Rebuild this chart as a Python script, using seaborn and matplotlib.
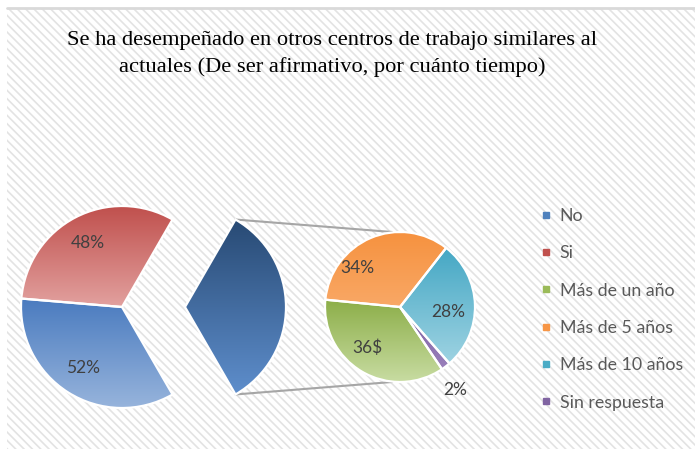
import numpy as np
import matplotlib
matplotlib.use("Agg")
import matplotlib.pyplot as plt
import seaborn as sns
from matplotlib.colors import to_rgb
from matplotlib.patches import Rectangle
from matplotlib.lines import Line2D

# ---------------- data ----------------
title = ("Se ha desempeñado en otros centros de trabajo similares al\n"
         "actuales (De ser afirmativo, por cuánto tiempo)")
main_categories = ["No", "Si"]
main_values = [52, 48]
main_labels = ["52%", "48%"]
other_weight = 50            # broken-out slice of the primary pie
sub_categories = ["Más de un año", "Más de 5 años", "Más de 10 años", "Sin respuesta"]
sub_values = [36, 34, 28, 2]
sub_labels = ["36$", "34%", "28%", "2%"]
legend_order = ["No", "Si", "Más de un año", "Más de 5 años", "Más de 10 años", "Sin respuesta"]

# ---------------- style ----------------
sns.set_theme(style="white")
plt.rcParams["font.family"] = ["Lato", "DejaVu Sans"]
plt.rcParams["hatch.linewidth"] = 1.2

base_colors = {"No": "#4f81bd", "Si": "#c0504d", "Más de un año": "#9bbb59",
               "Más de 5 años": "#f79646", "Más de 10 años": "#4bacc6",
               "Sin respuesta": "#8064a2"}
gradients = {"No": ("#4a7bbf", "#97b4dc"), "Si": ("#c0504d", "#e2a19f"),
             "other": ("#284a74", "#5e8ecc"),
             "Más de un año": ("#8cae48", "#c8dca2"),
             "Más de 5 años": ("#f6923f", "#f9a866"),
             "Más de 10 años": ("#44a7c4", "#9ed3e2"),
             "Sin respuesta": ("#7a5ea0", "#9a80bb")}

W, H = 695, 449
fig = plt.figure(figsize=(W / 100, H / 100), dpi=100)
fig.patch.set_facecolor("white")

# hatched chart background
bg = Rectangle((7 / W, 0), 1 - 7 / W, 1 - 9 / H, transform=fig.transFigure,
               facecolor="white", edgecolor="#e3e3e3", linewidth=0,
               hatch="\\\\\\\\", zorder=-10)
fig.patches.append(bg)
fig.lines.append(Line2D([7 / W, 1], [1 - 8 / H, 1 - 8 / H], transform=fig.transFigure,
                        color="#d9d9d9", linewidth=2, zorder=-9))

ax = fig.add_axes([0, 0, 1, 1])
ax.set_zorder(1)

main_center = (122, H - 307)
main_radius = 101
sub_center = (400, H - 307)
sub_radius = 75

wprops = dict(edgecolor="white", linewidth=1.6)

main_w, _ = ax.pie(main_values + [other_weight], center=main_center, radius=main_radius,
                   startangle=300, counterclock=False, explode=[0, 0, 63],
                   wedgeprops=wprops)
sub_w, _ = ax.pie(sub_values, center=sub_center, radius=sub_radius,
                  startangle=304, counterclock=False, wedgeprops=wprops)


def fill_gradient(wedge, top, bottom):
    bb = wedge.get_path().get_extents(wedge.get_patch_transform())
    t = np.linspace(0, 1, 256)[:, None]
    c_b = np.array(to_rgb(bottom))
    c_t = np.array(to_rgb(top))
    img = (c_b * (1 - t) + c_t * t)[:, None, :]
    im = ax.imshow(img, extent=(bb.x0, bb.x1, bb.y0, bb.y1), origin="lower",
                   aspect="auto", zorder=0.5, interpolation="bilinear")
    im.set_clip_path(wedge)
    wedge.set_facecolor("none")


for w, cat in zip(main_w, main_categories + ["other"]):
    fill_gradient(w, *gradients[cat])
for w, cat in zip(sub_w, sub_categories):
    fill_gradient(w, *gradients[cat])

label_kw = dict(ha="center", va="center", fontsize=12.5, color="#404040", zorder=5)


def place_label(w, text, dist, offset=0.0):
    ang = np.deg2rad((w.theta1 + w.theta2) / 2 + offset)
    cx, cy = w.center
    ax.text(cx + w.r * dist * np.cos(ang), cy + w.r * dist * np.sin(ang), text, **label_kw)


for w, lab in zip(main_w[:2], main_labels):
    place_label(w, lab, 0.72)
sub_dist = [0.70, 0.77, 0.64, 1.33]
sub_off = [-8, 24, -7, -4]
for w, lab, d, o in zip(sub_w, sub_labels, sub_dist, sub_off):
    place_label(w, lab, d, o)

# connector lines from the broken-out slice to the secondary pie
ow = main_w[2]
ocx, ocy = ow.center
for ang, sy in [(ow.theta2, sub_center[1] + sub_radius), (ow.theta1, sub_center[1] - sub_radius)]:
    a = np.deg2rad(ang)
    ax.plot([ocx + ow.r * np.cos(a), sub_center[0] - 8], [ocy + ow.r * np.sin(a), sy],
            color="#a6a6a6", linewidth=1.5, zorder=0.4)

ax.set_xlim(0, W)
ax.set_ylim(0, H)
ax.set_aspect("equal")
ax.axis("off")

handles = [Line2D([0], [0], marker="s", linestyle="none", markersize=5,
                  markerfacecolor=base_colors[c], markeredgecolor=base_colors[c])
           for c in legend_order]
leg = ax.legend(handles, legend_order, loc="upper left",
                bbox_to_anchor=(541 / W, 1 - 208 / H), frameon=False,
                fontsize=12.8, labelspacing=1.2, handlelength=0.6, handletextpad=0.45,
                borderpad=0, borderaxespad=0)
for t in leg.get_texts():
    t.set_color("#595959")

fig.text(332 / W, 1 - 54 / H, title, ha="center", va="center", fontsize=16.2,
         family=["Liberation Serif", "DejaVu Serif"], color="black",
         linespacing=1.52, multialignment="center")

fig.savefig("out.png", dpi=100)
